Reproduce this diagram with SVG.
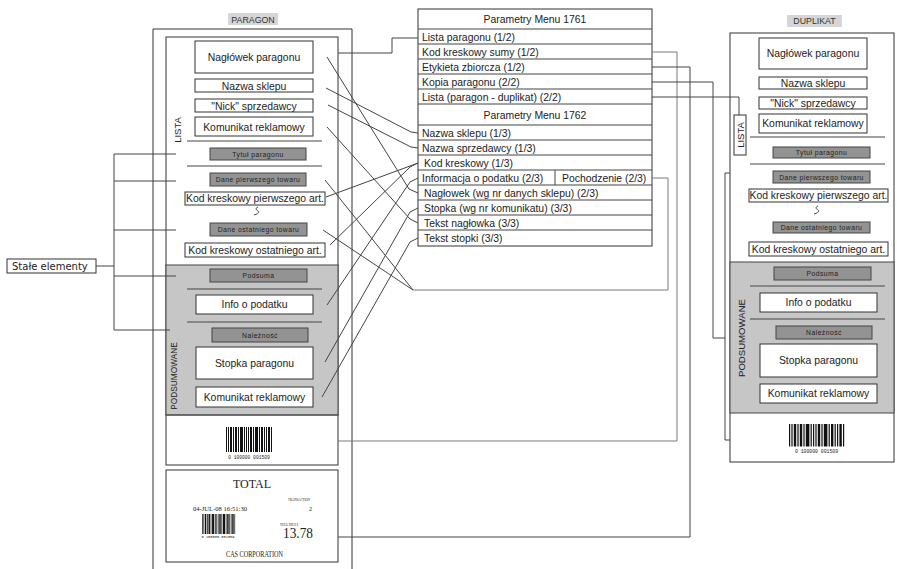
<svg xmlns="http://www.w3.org/2000/svg" xmlns:xlink="http://www.w3.org/1999/xlink" width="897" height="569" viewBox="0 0 897 569">
<defs>
<style>
.bx{fill:#fff;stroke:#333;stroke-width:1}
.gb{fill:#939393;stroke:#444;stroke-width:1}
.gs{fill:#c6c6c6;stroke:#444;stroke-width:1}
.fr{fill:none;stroke:#333;stroke-width:1}
.sep{stroke:#444;stroke-width:1}
.t{font-family:"Liberation Sans",Arial,sans-serif;font-size:10.4px;fill:#222}
.c{text-anchor:middle}
.ts{font-size:6.8px;letter-spacing:0.45px;fill:#222}
.lbl{fill:#d6d6d6}
.lt{font-family:"Liberation Sans",Arial,sans-serif;font-size:8.8px;fill:#333;text-anchor:middle}
.sf{font-family:"Liberation Serif","Times New Roman",serif;fill:#222}
.mono{font-family:"Liberation Mono",monospace;fill:#222}
.conn{fill:none;stroke:#444;stroke-width:1}
.connl{fill:none;stroke:#7a7a7a;stroke-width:1}
</style>
<g id="bc" fill="#111">
<rect x="0" y="0" width="1" height="25"/><rect x="2" y="0" width="1" height="25"/><rect x="4" y="0" width="2" height="25"/><rect x="7" y="0" width="1" height="25"/><rect x="9" y="0" width="2" height="25"/><rect x="12" y="0" width="1" height="25"/><rect x="14" y="0" width="3" height="25"/><rect x="18" y="0" width="1" height="25"/><rect x="20" y="0" width="1" height="25"/><rect x="22" y="0" width="1" height="25"/><rect x="24" y="0" width="2" height="25"/><rect x="27" y="0" width="1" height="25"/><rect x="29" y="0" width="3" height="25"/><rect x="33" y="0" width="1" height="25"/><rect x="35" y="0" width="2" height="25"/><rect x="38" y="0" width="1" height="25"/><rect x="40" y="0" width="1" height="25"/><rect x="42" y="0" width="2" height="25"/><rect x="45" y="0" width="1" height="25"/>
</g>
</defs>
<rect width="897" height="569" fill="#fff"/>

<!-- PARAGON column -->
<g id="paragon">
<rect class="lbl" x="228" y="13" width="50" height="12"/>
<text class="lt" x="253" y="22.5">PARAGON</text>
<path class="fr" d="M153,569 V29 H352 V569"/>
<rect class="bx" x="166" y="37" width="172" height="428"/>
<rect class="gs" x="166" y="265" width="172" height="150"/>
<line class="sep" x1="166" y1="415" x2="338" y2="415"/>
<text class="t" transform="translate(181,130) rotate(-90)" text-anchor="middle" style="font-size:9.5px">LISTA</text>
<text class="t" transform="translate(177,376) rotate(-90)" text-anchor="middle" style="font-size:8.3px">PODSUMOWANE</text>
<line class="sep" x1="187" y1="141" x2="322" y2="141"/>
<line class="sep" x1="187" y1="166" x2="322" y2="166"/>
<line class="sep" x1="187" y1="289" x2="322" y2="289"/>
<line class="sep" x1="187" y1="322" x2="322" y2="322"/>
<path d="M258,207 c-3,1 -2,3 0,4 c2,1 0,3 -4,4" fill="none" stroke="#444"/>
</g>
<g id="p-naglowek"><rect class="bx" x="195" y="41" width="118" height="32"/><text class="t c" x="254" y="61">Nagłówek paragonu</text></g>
<g id="p-nazwa"><rect class="bx" x="195" y="79" width="118" height="13"/><text class="t c" x="254" y="89.5">Nazwa sklepu</text></g>
<g id="p-nick"><rect class="bx" x="195" y="99" width="118" height="13"/><text class="t c" x="254" y="109.5">"Nick" sprzedawcy</text></g>
<g id="p-komunikat1"><rect class="bx" x="195" y="117" width="118" height="19"/><text class="t c" x="254" y="130.5">Komunikat reklamowy</text></g>
<g id="p-tytul"><rect class="gb" x="210" y="148" width="96" height="12"/><text class="t c ts" x="258" y="156.5">Tytuł paragonu</text></g>
<g id="p-dane1"><rect class="gb" x="210" y="173" width="96" height="13"/><text class="t c ts" x="258" y="182">Dane pierwszego towaru</text></g>
<g id="p-kod1"><rect class="bx" x="185" y="192" width="140" height="13"/><text class="t c" x="255" y="202.3">Kod kreskowy pierwszego art.</text></g>
<g id="p-dane2"><rect class="gb" x="210" y="223" width="97" height="13"/><text class="t c ts" x="258.5" y="232">Dane ostatniego towaru</text></g>
<g id="p-kod2"><rect class="bx" x="185" y="243" width="140" height="14"/><text class="t c" x="255" y="253.7">Kod kreskowy ostatniego art.</text></g>
<g id="p-podsuma"><rect class="gb" x="210" y="269" width="97" height="13"/><text class="t c ts" x="258.5" y="278">Podsuma</text></g>
<g id="p-info"><rect class="bx" x="196" y="295" width="117" height="19"/><text class="t c" x="254.5" y="308.3">Info o podatku</text></g>
<g id="p-naleznosc"><rect class="gb" x="212" y="328" width="96" height="14"/><text class="t c ts" x="260" y="337.5">Należność</text></g>
<g id="p-stopka"><rect class="bx" x="196" y="347" width="117" height="32"/><text class="t c" x="254.5" y="366.7">Stopka paragonu</text></g>
<g id="p-komunikat2"><rect class="bx" x="196" y="387" width="117" height="20"/><text class="t c" x="254.5" y="400.7">Komunikat reklamowy</text></g>
<g id="p-barcode">
<use xlink:href="#bc" transform="translate(226,427)"/>
<text class="mono" x="249" y="458.5" text-anchor="middle" font-size="4.6">0  100000  001509</text>
</g>
<g id="p-total">
<rect class="bx" x="166" y="470" width="172" height="92"/>
<text class="sf" x="252" y="488" text-anchor="middle" font-size="12">TOTAL</text>
<text class="sf" x="193" y="511" font-size="5.5" textLength="54" lengthAdjust="spacingAndGlyphs">04-JUL-08  16:51:30</text>
<text class="sf" x="288" y="501" font-size="3.6" textLength="22" lengthAdjust="spacingAndGlyphs">TRANSACTION</text>
<text class="sf" x="309" y="511" font-size="6">2</text>
<use xlink:href="#bc" transform="translate(202,514) scale(0.72,0.8)"/>
<text class="mono" x="218" y="537.5" text-anchor="middle" font-size="3.4" textLength="33" lengthAdjust="spacingAndGlyphs">0 100000 001509</text>
<text class="sf" x="280" y="526" font-size="3.6" textLength="18" lengthAdjust="spacingAndGlyphs">TOTAL PRICE $</text>
<text class="sf" x="283" y="538" font-size="14" textLength="30" lengthAdjust="spacingAndGlyphs">13.78</text>
<text class="sf" x="226" y="557" font-size="8.5" textLength="57" lengthAdjust="spacingAndGlyphs">CAS CORPORATION</text>
</g>

<!-- Stałe elementy -->
<g id="stale"><rect class="bx" x="7" y="259" width="89" height="14"/><text x="12" y="269.8" style="font-family:'DejaVu Sans',Verdana,sans-serif;font-size:10px;fill:#222">Stałe elementy</text></g>

<!-- Parameter table -->
<g id="tabela">
<rect class="bx" x="418" y="9" width="234" height="237"/>
<g class="sep">
<line x1="418" y1="29" x2="652" y2="29"/><line x1="418" y1="44" x2="652" y2="44"/><line x1="418" y1="59" x2="652" y2="59"/><line x1="418" y1="74" x2="652" y2="74"/><line x1="418" y1="89" x2="652" y2="89"/><line x1="418" y1="104" x2="652" y2="104"/><line x1="418" y1="125" x2="652" y2="125"/><line x1="418" y1="140" x2="652" y2="140"/><line x1="418" y1="155" x2="652" y2="155"/><line x1="418" y1="170" x2="652" y2="170"/><line x1="418" y1="185" x2="652" y2="185"/><line x1="418" y1="200" x2="652" y2="200"/><line x1="418" y1="215" x2="652" y2="215"/><line x1="418" y1="230" x2="652" y2="230"/>
<line x1="555" y1="170" x2="555" y2="185"/>
</g>
<text class="t c" x="535" y="23">Parametry Menu 1761</text>
<text class="t" x="422" y="40.5">Lista paragonu (1/2)</text>
<text class="t" x="422" y="55.5">Kod kreskowy sumy (1/2)</text>
<text class="t" x="422" y="70.5">Etykieta zbiorcza (1/2)</text>
<text class="t" x="422" y="85.5">Kopia paragonu (2/2)</text>
<text class="t" x="422" y="100.5">Lista (paragon - duplikat) (2/2)</text>
<text class="t c" x="535" y="118.5">Parametry Menu 1762</text>
<text class="t" x="422" y="136.5">Nazwa sklepu (1/3)</text>
<text class="t" x="422" y="151.5">Nazwa sprzedawcy (1/3)</text>
<text class="t" x="424" y="166.5">Kod kreskowy (1/3)</text>
<text class="t" x="422" y="181.5">Informacja o podatku (2/3)</text>
<text class="t" x="562" y="181.5">Pochodzenie (2/3)</text>
<text class="t" x="424" y="196.5">Nagłowek (wg nr danych sklepu) (2/3)</text>
<text class="t" x="424" y="211.5">Stopka (wg nr komunikatu) (3/3)</text>
<text class="t" x="424" y="226.5">Tekst nagłowka (3/3)</text>
<text class="t" x="424" y="242">Tekst stopki (3/3)</text>
</g>

<!-- DUPLIKAT column -->
<g id="duplikat">
<rect class="lbl" x="787" y="15" width="55" height="12"/>
<text class="lt" x="814.5" y="24.3">DUPLIKAT</text>
<rect class="bx" x="730" y="33" width="164" height="429"/>
<rect class="gs" x="730" y="262" width="164" height="151"/>
<rect class="bx" x="734" y="115" width="12" height="40"/>
<text class="t" transform="translate(744,135) rotate(-90)" text-anchor="middle" style="font-size:9.5px">LISTA</text>
<text class="t" transform="translate(745,338) rotate(-90)" text-anchor="middle" style="font-size:9.6px">PODSUMOWANE</text>
<line class="sep" x1="750" y1="137" x2="885" y2="137"/>
<line class="sep" x1="750" y1="164" x2="885" y2="164"/>
<line class="sep" x1="750" y1="286" x2="885" y2="286"/>
<line class="sep" x1="750" y1="319" x2="885" y2="319"/>
<path d="M818,206 c-3,1 -2,3 0,4 c2,1 0,3 -4,4" fill="none" stroke="#444"/>
</g>
<g id="d-naglowek"><rect class="bx" x="759" y="38" width="108" height="31"/><text class="t c" x="813" y="57.2">Nagłówek paragonu</text></g>
<g id="d-nazwa"><rect class="bx" x="759" y="77" width="108" height="12"/><text class="t c" x="813" y="86.7">Nazwa sklepu</text></g>
<g id="d-nick"><rect class="bx" x="759" y="97" width="108" height="12"/><text class="t c" x="813" y="106.7">"Nick" sprzedawcy</text></g>
<g id="d-komunikat1"><rect class="bx" x="759" y="114" width="108" height="19"/><text class="t c" x="813" y="127.2">Komunikat reklamowy</text></g>
<g id="d-tytul"><rect class="gb" x="773" y="147" width="97" height="11"/><text class="t c ts" x="821.5" y="155">Tytuł paragonu</text></g>
<g id="d-dane1"><rect class="gb" x="773" y="171" width="97" height="12"/><text class="t c ts" x="821.5" y="179.5">Dane pierwszego towaru</text></g>
<g id="d-kod1"><rect class="bx" x="749" y="189" width="139" height="13"/><text class="t c" x="818.5" y="199.3">Kod kreskowy pierwszego art.</text></g>
<g id="d-dane2"><rect class="gb" x="773" y="222" width="97" height="11"/><text class="t c ts" x="821.5" y="230">Dane ostatniego towaru</text></g>
<g id="d-kod2"><rect class="bx" x="749" y="242" width="139" height="14"/><text class="t c" x="818.5" y="252.7">Kod kreskowy ostatniego art.</text></g>
<g id="d-podsuma"><rect class="gb" x="774" y="267" width="97" height="13"/><text class="t c ts" x="822.5" y="276">Podsuma</text></g>
<g id="d-info"><rect class="bx" x="760" y="293" width="117" height="19"/><text class="t c" x="818.5" y="306.3">Info o podatku</text></g>
<g id="d-naleznosc"><rect class="gb" x="776" y="326" width="96" height="13"/><text class="t c ts" x="824" y="335">Należność</text></g>
<g id="d-stopka"><rect class="bx" x="760" y="344" width="117" height="33"/><text class="t c" x="818.5" y="364.2">Stopka paragonu</text></g>
<g id="d-komunikat2"><rect class="bx" x="760" y="384" width="117" height="19"/><text class="t c" x="818.5" y="397.2">Komunikat reklamowy</text></g>
<g id="d-barcode">
<use xlink:href="#bc" transform="translate(789,424) scale(1.2,0.9)"/>
<text class="mono" x="816.5" y="452.5" text-anchor="middle" font-size="4.8">0  100000  001509</text>
</g>

<!-- Connectors -->
<g id="connectors">
<path class="conn" d="M338,53 H392 V38 H418"/>
<path class="conn" d="M326,88 L411,132 L418,133"/>
<path class="conn" d="M328,105 L411,147 L418,148"/>
<path class="conn" d="M327,57 L409,189 L418,193"/>
<path class="conn" d="M327,127 L410,219 L418,223"/>
<path class="conn" d="M326,197 L410,166 L418,163"/>
<path class="conn" d="M330,245 L410,167 L418,163"/>
<path class="conn" d="M327,305 L410,182 L418,178"/>
<path class="conn" d="M325,362 L410,212 L418,208"/>
<path class="conn" d="M322,397 L410,242 L418,238"/>
<path class="conn" d="M325,180 L413,290"/>
<path class="conn" d="M323,230 L413,290"/>
<path class="connl" d="M652,178 H668 V290 H413"/>
<path class="connl" d="M652,52 H677 V441 H338"/>
<path class="conn" d="M652,67 H690 V537 H338"/>
<path class="conn" d="M652,82 H713 V338 H725"/>
<path class="conn" d="M730,173 H725 V440 H730"/>
<path class="conn" d="M652,97 H739 V115"/>
<path class="conn" d="M96,266 H114 M114,154 V330 M114,154 H176 M114,181 H176 M114,230 H176 M114,276 H176 M114,330 H170"/>
</g>
</svg>
